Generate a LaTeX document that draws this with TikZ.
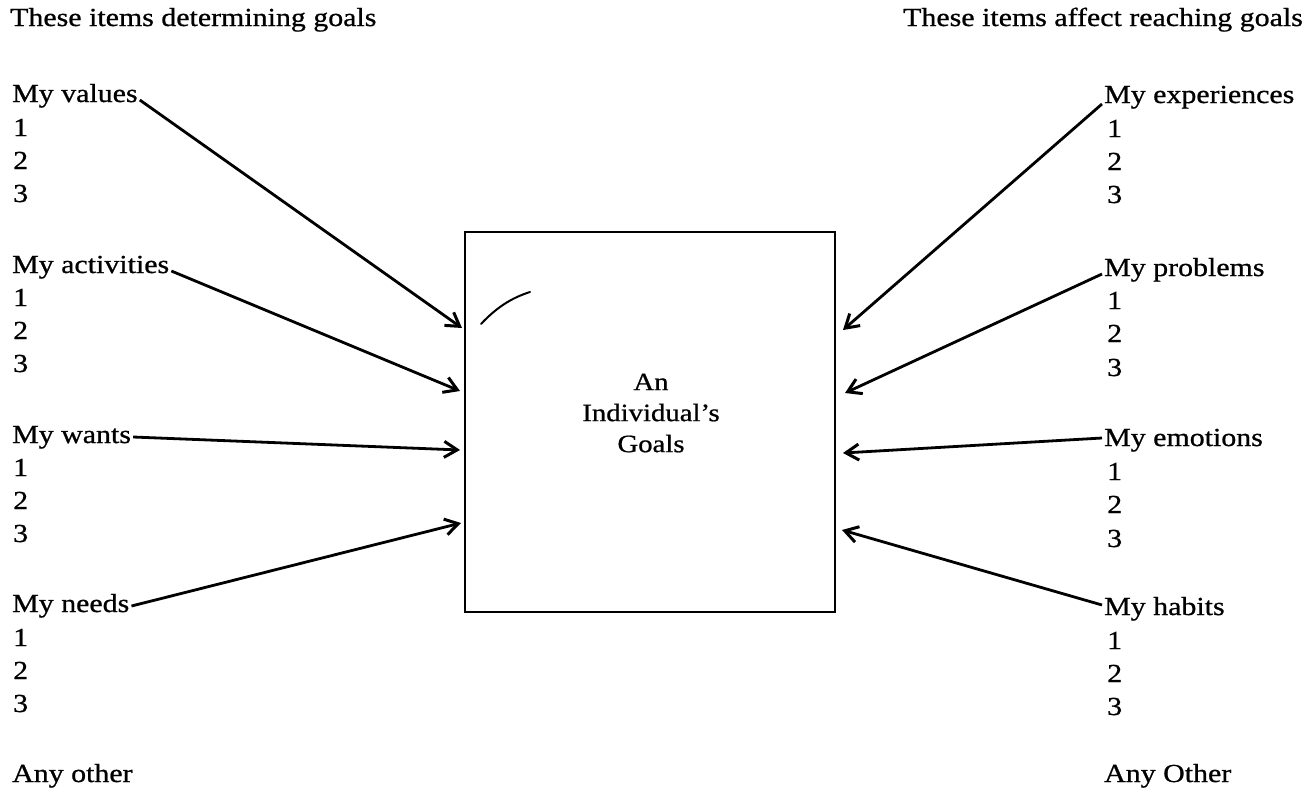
\documentclass[tikz,border=0pt]{standalone}
\usepackage{fontspec}
\setmainfont{Liberation Serif}[FakeStretch=1.15,FakeBold=0.8]
\usetikzlibrary{arrows.meta}
\begin{document}
\begin{tikzpicture}[x=1pt,y=-1pt,
  every node/.style={inner sep=0pt, font=\fontsize{26}{33}\selectfont},
  lbl/.style={anchor=west, text height=18pt, text depth=6pt},
  goalbox/.style={draw, line width=2.8pt, minimum width=370pt, minimum height=380pt},
  arr/.style={line width=2.8pt, -{Straight Barb[length=13pt,width=16pt,line width=3pt]}},
  penstroke/.style={line width=2pt, line cap=round}
]
\useasboundingbox (0,0) rectangle (1313,798);

% headers
\node[lbl] (hl) at (10,20) {These items determining goals};
\node[lbl, anchor=east] (hr) at (1303,20) {These items affect reaching goals};

% box
\node[goalbox] (box) at (650,422) {};
\node[align=center, font=\fontsize{25}{31}\selectfont] (goal) at (651,413) {An\\Individual's\\Goals};

% left column
\node[lbl] (vals) at (12,96) {My values};
\node[lbl] (v1) at (13,130) {1};
\node[lbl] (v2) at (13,163) {2};
\node[lbl] (v3) at (13,196) {3};
\node[lbl] (acts) at (12,267) {My activities};
\node[lbl] (a1) at (13,300) {1};
\node[lbl] (a2) at (13,333) {2};
\node[lbl] (a3) at (13,366) {3};
\node[lbl] (wants) at (12,437) {My wants};
\node[lbl] (w1) at (13,470) {1};
\node[lbl] (w2) at (13,503) {2};
\node[lbl] (w3) at (13,536) {3};
\node[lbl] (needs) at (12,606) {My needs};
\node[lbl] (n1) at (13,640) {1};
\node[lbl] (n2) at (13,673) {2};
\node[lbl] (n3) at (13,706) {3};
\node[lbl] (lother) at (12,776) {Any other};

% right column
\node[lbl] (exp) at (1104,97) {My experiences};
\node[lbl] (e1) at (1107,131) {1};
\node[lbl] (e2) at (1107,164) {2};
\node[lbl] (e3) at (1107,197) {3};
\node[lbl] (prob) at (1104,270) {My problems};
\node[lbl] (p1) at (1107,303) {1};
\node[lbl] (p2) at (1107,336) {2};
\node[lbl] (p3) at (1107,370) {3};
\node[lbl] (emo) at (1104,440) {My emotions};
\node[lbl] (m1) at (1107,474) {1};
\node[lbl] (m2) at (1107,507) {2};
\node[lbl] (m3) at (1107,541) {3};
\node[lbl] (hab) at (1104,609) {My habits};
\node[lbl] (h1) at (1107,643) {1};
\node[lbl] (h2) at (1107,676) {2};
\node[lbl] (h3) at (1107,709) {3};
\node[lbl] (rother) at (1104,776) {Any Other};

% arrow targets beside the box
\coordinate (tL1) at (462,328);
\coordinate (tL2) at (460,391);
\coordinate (tL3) at (460,450);
\coordinate (tL4) at (461,523);
\coordinate (tR1) at (843,330);
\coordinate (tR2) at (845,393);
\coordinate (tR3) at (843,453);
\coordinate (tR4) at (842,530);

% arrows
\draw[arr] ([xshift=2pt,yshift=-4pt]vals.east) -- (tL1);
\draw[arr] ([xshift=2pt,yshift=-4pt]acts.east) -- (tL2);
\draw[arr] ([xshift=2pt]wants.east) -- (tL3);
\draw[arr] ([xshift=2pt]needs.east) -- (tL4);
\draw[arr] ([xshift=-2pt,yshift=-7pt]exp.west) -- (tR1);
\draw[arr] ([xshift=-2pt,yshift=-4pt]prob.west) -- (tR2);
\draw[arr] ([xshift=-2pt,yshift=2pt]emo.west) -- (tR3);
\draw[arr] ([xshift=-2pt,yshift=4pt]hab.west) -- (tR4);

% stray pen stroke inside the box
\draw[penstroke] (481,324) .. controls (496,308) and (511,298) .. (530,292);
\end{tikzpicture}
\end{document}
